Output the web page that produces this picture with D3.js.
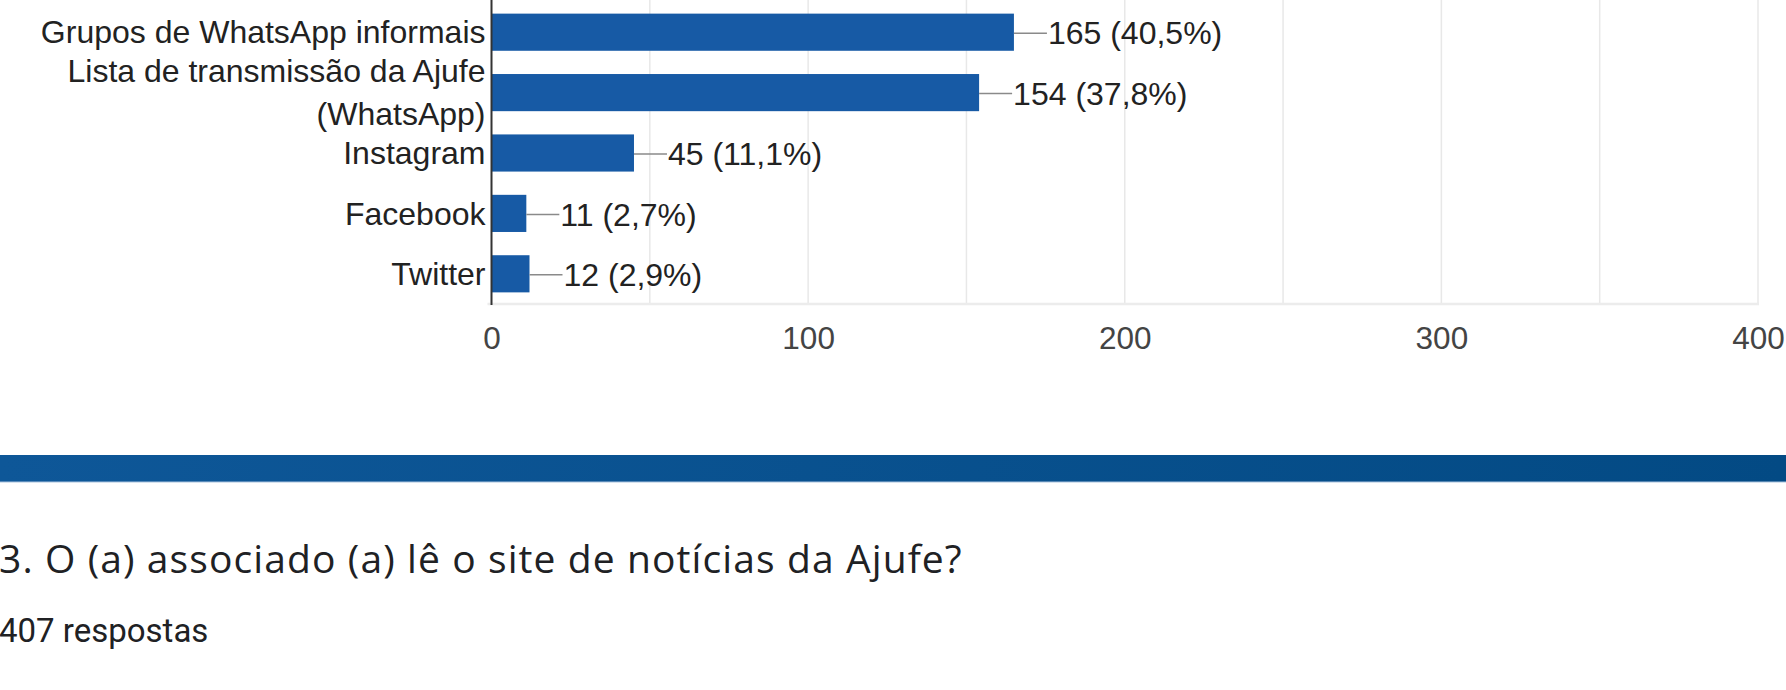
<!DOCTYPE html>
<html>
<meta charset="utf-8">
<script src="https://d3js.org/d3.v7.min.js"></script>
<style>
  body { margin: 0; background: #fff; }
  .lbl { font-family: "Liberation Sans", Arial, sans-serif; font-size: 32px; fill: #222; }
  .tick text { font-family: "Liberation Sans", Arial, sans-serif; font-size: 31.5px; fill: #444; }
</style>
<body>
<div id="vis"></div>
<script>

// data
var categories = ["Grupos de WhatsApp informais", "Lista de transmissão da Ajufe (WhatsApp)", "Instagram", "Facebook", "Twitter"];
var counts = [165, 154, 45, 11, 12];
var percents = ["40,5%", "37,8%", "11,1%", "2,7%", "2,9%"];
var tickValues = [0, 100, 200, 300, 400];
var gridValues = [50, 100, 150, 200, 250, 300, 350, 400];
var title = "3. O (a) associado (a) lê o site de notícias da Ajufe?";
var subtitle = "407 respostas";

var total_width = 1786, total_height = 690;
var chart = {left: 491.5, right: 1758, top: 2, bottom: 304};

var svg = d3.select("#vis")
  .append("svg")
    .attr("width", total_width)
    .attr("height", total_height);

var x_scale = d3.scaleLinear()
  .domain([0, 400])
  .range([chart.left, chart.right]);

var y_scale = d3.scaleBand()
  .domain(categories)
  .range([chart.top, chart.bottom])
  .paddingInner(0.385)
  .paddingOuter(0.1925);

// gridlines
svg.append("g")
  .selectAll("line")
  .data(gridValues)
  .enter()
  .append("line")
    .attr("x1", function(d) { return x_scale(d); })
    .attr("x2", function(d) { return x_scale(d); })
    .attr("y1", 0)
    .attr("y2", chart.bottom)
    .attr("stroke", "#e8e8e8")
    .attr("stroke-width", 1.5);

svg.append("line")
  .attr("x1", x_scale(0) - 4).attr("x2", x_scale(400) + 1)
  .attr("y1", chart.bottom).attr("y2", chart.bottom)
  .attr("stroke", "#ececec")
  .attr("stroke-width", 2.5);

// x axis labels
var xAxis = svg.append("g")
  .attr("transform", "translate(0," + (chart.bottom + 23) + ")")
  .call(d3.axisBottom(x_scale).tickValues(tickValues).tickSize(0).tickPadding(0));
xAxis.select(".domain").remove();
xAxis.selectAll("text").attr("dy", "0.71em");

// bars
svg.append("g")
  .selectAll("rect")
  .data(categories)
  .enter()
  .append("rect")
    .attr("x", x_scale(0))
    .attr("y", function(d) { return y_scale(d); })
    .attr("width", function(d, i) { return x_scale(counts[i]) - x_scale(0); })
    .attr("height", y_scale.bandwidth())
    .attr("fill", "#175aa5");

// leader lines + value labels
var mid = function(d) { return y_scale(d) + y_scale.bandwidth() / 2 + 1; };
svg.append("g")
  .selectAll("line")
  .data(categories)
  .enter()
  .append("line")
    .attr("x1", function(d, i) { return x_scale(counts[i]); })
    .attr("x2", function(d, i) { return x_scale(counts[i]) + 33; })
    .attr("y1", mid)
    .attr("y2", mid)
    .attr("stroke", "#8a8a8a")
    .attr("stroke-width", 1.5);

svg.append("g")
  .selectAll("text")
  .data(categories)
  .enter()
  .append("text")
    .attr("class", "lbl")
    .attr("x", function(d, i) { return x_scale(counts[i]) + 34; })
    .attr("y", mid)
    .attr("dy", "0.35em")
    .text(function(d, i) { return counts[i] + " (" + percents[i] + ")"; });

// zero line
svg.append("line")
  .attr("x1", x_scale(0)).attr("x2", x_scale(0))
  .attr("y1", 0).attr("y2", chart.bottom + 1)
  .attr("stroke", "#333")
  .attr("stroke-width", 2);

// category labels, wrapped when too long
var catLabels = svg.append("g")
  .selectAll("text")
  .data(categories)
  .enter()
  .append("text")
    .attr("class", "lbl")
    .attr("text-anchor", "end");

catLabels.each(function(d) {
  var t = d3.select(this);
  var words = d.split(" "), lines = [], line = [];
  words.forEach(function(w) {
    line.push(w);
    t.text(line.join(" "));
    if (this.getComputedTextLength() > 455 && line.length > 1) {
      line.pop();
      lines.push(line.join(" "));
      line = [w];
    }
  }, this);
  lines.push(line.join(" "));
  t.text(null);
  var cy = y_scale(d) + y_scale.bandwidth() / 2;
  var lh = 43;
  lines.forEach(function(l, k) {
    t.append("tspan")
      .attr("x", x_scale(0) - 6)
      .attr("y", cy + (k - (lines.length - 1) / 2) * lh)
      .attr("dy", "0.35em")
      .text(l);
  });
});

// section band
var grad = svg.append("defs").append("linearGradient").attr("id", "band");
grad.append("stop").attr("offset", "0%").attr("stop-color", "#0e5798");
grad.append("stop").attr("offset", "100%").attr("stop-color", "#034a84");
svg.append("rect")
  .attr("x", 0).attr("y", 455)
  .attr("width", total_width).attr("height", 27)
  .attr("fill", "url(#band)");
svg.append("line")
  .attr("x1", 0).attr("x2", total_width)
  .attr("y1", 482).attr("y2", 482)
  .attr("stroke", "#a9c3de")
  .attr("stroke-width", 1);

// question title + response count
svg.append("text")
  .attr("x", -1).attr("y", 573)
  .style("font-family", "'Open Sans', sans-serif")
  .style("font-size", "39px")
  .style("letter-spacing", "1.1px")
  .style("fill", "#202124")
  .text(title);

svg.append("text")
  .attr("x", -1).attr("y", 642)
  .style("font-family", "Roboto, sans-serif")
  .style("font-size", "33px")
  .style("fill", "#202124")
  .text(subtitle);

</script>
</body>
</html>
